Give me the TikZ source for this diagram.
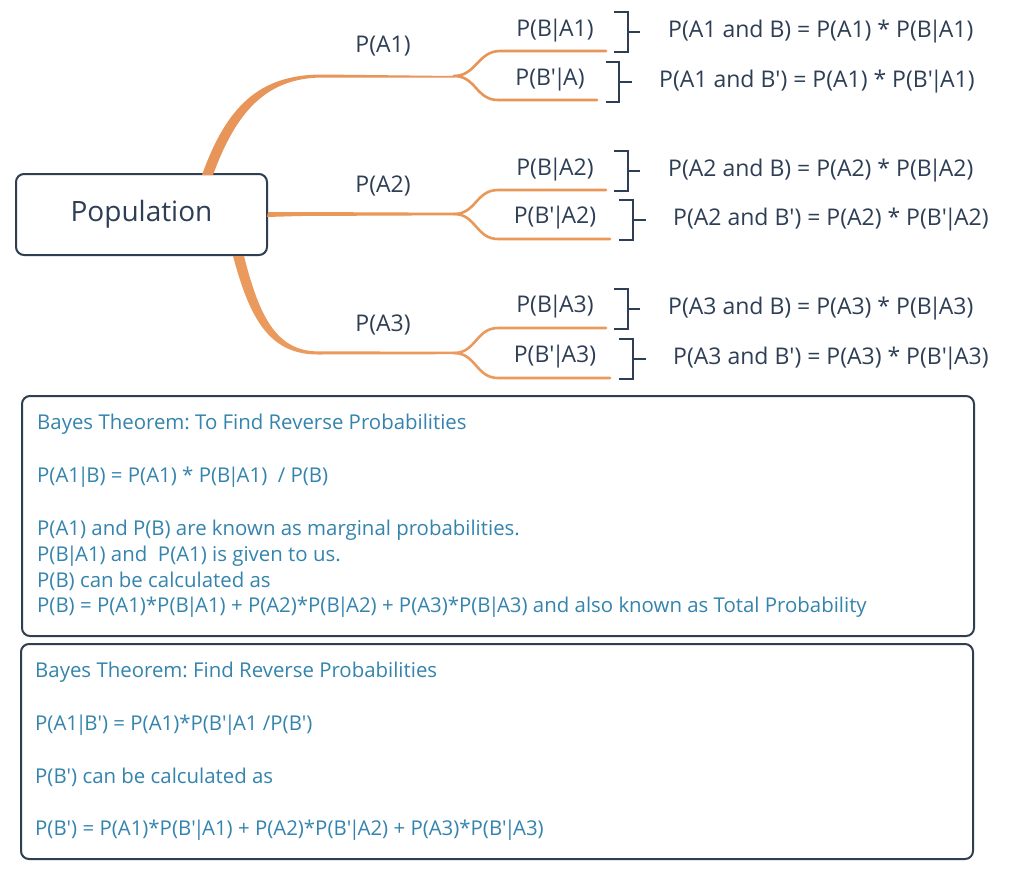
\documentclass[tikz,border=0pt]{standalone}
\usepackage{fontspec}
\newfontfamily\osans{Open Sans}
\definecolor{navy}{HTML}{2D3E55}
\definecolor{teal}{HTML}{3484AE}
\definecolor{orA}{HTML}{E8955A}
\definecolor{orB}{HTML}{E99858}
\definecolor{orC}{HTML}{EA9A5C}
\definecolor{boxline}{HTML}{2F3E50}
\newcommand{\ap}{\textquotesingle}
\newcommand{\vb}{{\kern-0.12em|\kern-0.12em}}
\frenchspacing
\begin{document}
\begin{tikzpicture}[x=1pt,y=-1pt,
  popbox/.style={draw=boxline,line width=2pt,rounded corners=8pt,minimum width=251pt,minimum height=81pt,text=navy,font=\osans\fontsize{28}{32}\selectfont,inner sep=0pt},
  infobox/.style={draw=boxline,line width=2pt,rounded corners=8pt},
  plabel/.style={text=navy,font=\osans\fontsize{23}{27}\selectfont,inner sep=0pt},
  eqlabel/.style={text=navy,font=\osans\fontsize{23}{27}\selectfont,inner sep=0pt,anchor=west},
  infotext/.style={text=teal,font=\osans\fontsize{20.4}{24}\selectfont,inner sep=0pt,anchor=west},
  sub/.style={line width=2.6pt,line cap=round},
  brk/.style={draw=navy,line width=2pt}]
\useasboundingbox (0,0) rectangle (1022,871);
\fill[white] (0,0) rectangle (1022,871);

% central node
\node[popbox] (pop) at (141.5,214.5) {Population};

% fork coordinates
\coordinate (f1) at (454,76);
\coordinate (f2) at (454,214);
\coordinate (f3) at (454,353);
\coordinate (e1a) at (606,51);
\coordinate (e1b) at (597,100);
\coordinate (e2a) at (606,190);
\coordinate (e2b) at (610,239);
\coordinate (e3a) at (606,328);
\coordinate (e3b) at (610,378);

% main branches (tapered)
\fill[orA] (202,175) .. controls (226,108) and (258,74.5) .. (322,74.5) -- (f1) -- ++(0,1.5)
  -- (322,77.5) .. controls (266,78) and (236,112) .. (213,175) -- cycle;
\fill[orB] (pop.east) ++(0,-2.5) -- (300,212) -- (454,212.7) -- (454,215.3) -- (300,216) -- (267,217) -- cycle;
\fill[orC] (233,256) .. controls (250,320) and (270,354.5) .. (318,354.5) -- (454,354.2) -- (454,351.6) -- (318,351.4)
  .. controls (278,351) and (260,320) .. (244,256) -- cycle;

% sub-branches
\draw[sub,draw=orA] (f1) .. controls (476,76) and (478,51) .. (500,51) -- (e1a);
\draw[sub,draw=orA] (f1) .. controls (476,76) and (476,100) .. (498,100) -- (e1b);
\draw[sub,draw=orB] (f2) .. controls (476,214) and (476,190) .. (498,190) -- (e2a);
\draw[sub,draw=orB] (f2) .. controls (476,214) and (476,239) .. (498,239) -- (e2b);
\draw[sub,draw=orC] (f3) .. controls (476,353) and (476,328) .. (498,328) -- (e3a);
\draw[sub,draw=orC] (f3) .. controls (476,353) and (476,378) .. (498,378) -- (e3b);

% branch labels
\node[plabel] (pa1) at (383,46) {P(A1)};
\node[plabel] (pa2) at (383,186) {P(A2)};
\node[plabel] (pa3) at (383,325) {P(A3)};
\node[plabel] (pb1) at (555,31) {P(B\vb A1)};
\node[plabel] (pb1n) at (550,80) {P(B\ap\vb A)};
\node[plabel] (pb2) at (555,170) {P(B\vb A2)};
\node[plabel] (pb2n) at (555,218) {P(B\ap\vb A2)};
\node[plabel] (pb3) at (555,307) {P(B\vb A3)};
\node[plabel] (pb3n) at (555,357) {P(B\ap\vb A3)};

% brackets
\draw[brk] (614,12) -- (628,12) -- (628,52) -- (614,52) (628,32) -- (640,32);
\draw[brk] (606,62) -- (619,62) -- (619,102) -- (606,102) (619,82) -- (632,82);
\draw[brk] (614,151) -- (628,151) -- (628,191) -- (614,191) (628,171) -- (640,171);
\draw[brk] (619,200) -- (633,200) -- (633,240) -- (619,240) (633,220) -- (646,220);
\draw[brk] (614,289) -- (628,289) -- (628,329) -- (614,329) (628,309) -- (640,309);
\draw[brk] (619,339) -- (633,339) -- (633,379) -- (619,379) (633,359) -- (646,359);

% equations
\node[eqlabel] (q1) at (668,32) {P(A1 and B) = P(A1) * P(B\vb A1)};
\node[eqlabel] (q2) at (659,82) {P(A1 and B\ap) = P(A1) * P(B\ap\vb A1)};
\node[eqlabel] (q3) at (668,171) {P(A2 and B) = P(A2) * P(B\vb A2)};
\node[eqlabel] (q4) at (673,220) {P(A2 and B\ap) = P(A2) * P(B\ap\vb A2)};
\node[eqlabel] (q5) at (668,309) {P(A3 and B) = P(A3) * P(B\vb A3)};
\node[eqlabel] (q6) at (673,359) {P(A3 and B\ap) = P(A3) * P(B\ap\vb A3)};

% info boxes
\draw[infobox] (22,396) rectangle (974,636);
\draw[infobox] (21,644) rectangle (973,859);
\node[infotext] (t1) at (37,424) {Bayes Theorem: To Find Reverse Probabilities};
\node[infotext] (t2) at (37,477) {P(A1\vb B) = P(A1) * P(B\vb A1) \ / P(B)};
\node[infotext] (t3) at (37,530) {P(A1) and P(B) are known as marginal probabilities.};
\node[infotext] (t4) at (37,556) {P(B\vb A1) and \ P(A1) is given to us.};
\node[infotext] (t5) at (37,581) {P(B) can be calculated as};
\node[infotext] (t6) at (37,607) {P(B) = P(A1)*P(B\vb A1) + P(A2)*P(B\vb A2) + P(A3)*P(B\vb A3) and also known as Total Probability};
\node[infotext] (u1) at (35,672) {Bayes Theorem: Find Reverse Probabilities};
\node[infotext] (u2) at (35,725) {P(A1\vb B\ap) = P(A1)*P(B\ap\vb A1 /P(B\ap)};
\node[infotext] (u3) at (35,777) {P(B\ap) can be calculated as};
\node[infotext] (u4) at (35,830) {P(B\ap) = P(A1)*P(B\ap\vb A1) + P(A2)*P(B\ap\vb A2) + P(A3)*P(B\ap\vb A3)};
\end{tikzpicture}
\end{document}
